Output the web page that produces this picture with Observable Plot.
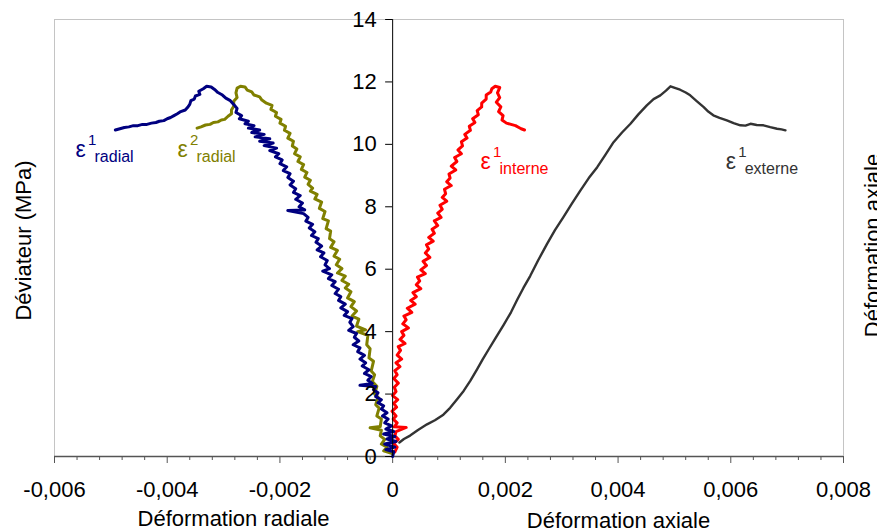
<!DOCTYPE html>
<html><head><meta charset="utf-8">
<script src="https://cdn.jsdelivr.net/npm/d3@7"></script>
<script src="https://cdn.jsdelivr.net/npm/@observablehq/plot@0.6"></script>
<style>body{margin:0;background:#fff} svg{display:block}</style>
</head><body><div id="chart"></div>
<script>
// ---- data (x = strain, y = deviator stress in MPa) ----
const radial1 = [
[0.00000,0.00],[0.00002,0.15],[-0.00012,0.22],[0.00004,0.30],[-0.00014,0.40],[0.00006,0.48],[-0.00010,0.56],[0.00004,0.64],
[-0.00016,0.72],[0.00002,0.80],[-0.00012,0.88],[-0.00002,0.98],[-0.00014,1.08],[-0.00008,1.20],[-0.00018,1.30],[-0.00010,1.40],
[-0.00020,1.52],[-0.00016,1.62],[-0.00026,1.72],[-0.00020,1.82],[-0.00030,1.92],[-0.00026,2.04],[-0.00034,2.14],[-0.00030,2.24],
[-0.00058,2.28],[-0.00036,2.34],[-0.00044,2.44],[-0.00038,2.56],[-0.00050,2.66],[-0.00042,2.78],[-0.00054,2.90],[-0.00048,3.00],
[-0.00058,3.12],[-0.00050,3.24],[-0.00062,3.36],[-0.00058,3.48],[-0.00070,3.58],[-0.00060,3.70],[-0.00068,3.82],[-0.00064,3.94],
[-0.00078,4.04],[-0.00070,4.16],[-0.00076,4.30],[-0.00072,4.42],[-0.00086,4.52],[-0.00080,4.64],[-0.00092,4.76],[-0.00084,4.88],
[-0.00096,5.00],[-0.00092,5.12],[-0.00102,5.22],[-0.00096,5.36],[-0.00108,5.48],[-0.00102,5.60],[-0.00114,5.70],[-0.00108,5.82],
[-0.00124,5.94],[-0.00112,6.02],[-0.00120,6.14],[-0.00116,6.28],[-0.00128,6.40],[-0.00122,6.52],[-0.00134,6.62],[-0.00126,6.74],
[-0.00136,6.86],[-0.00132,6.98],[-0.00144,7.08],[-0.00138,7.20],[-0.00148,7.32],[-0.00142,7.44],[-0.00154,7.54],[-0.00150,7.66],
[-0.00158,7.78],[-0.00186,7.88],[-0.00156,7.90],[-0.00166,8.00],[-0.00160,8.12],[-0.00172,8.24],[-0.00164,8.36],[-0.00176,8.46],
[-0.00172,8.58],[-0.00182,8.70],[-0.00176,8.82],[-0.00186,8.94],[-0.00182,9.06],[-0.00194,9.16],[-0.00188,9.28],[-0.00200,9.38],
[-0.00196,9.50],[-0.00208,9.60],[-0.00202,9.70],[-0.00218,9.80],[-0.00206,9.88],[-0.00228,9.96],[-0.00212,10.04],[-0.00236,10.10],
[-0.00218,10.18],[-0.00244,10.24],[-0.00228,10.32],[-0.00250,10.38],[-0.00236,10.46],[-0.00256,10.52],[-0.00246,10.60],
[-0.00262,10.66],[-0.00256,10.74],[-0.00272,10.82],[-0.00268,10.92],[-0.00278,11.02],[-0.00276,11.15],[-0.00282,11.28],
[-0.00288,11.40],[-0.00296,11.48],[-0.00302,11.58],[-0.00310,11.66],[-0.00316,11.76],[-0.00322,11.84],[-0.00330,11.86],
[-0.00336,11.78],[-0.00344,11.70],[-0.00342,11.60],[-0.00350,11.55],[-0.00352,11.45],[-0.00358,11.40],[-0.00360,11.28],
[-0.00364,11.18],[-0.00368,11.10],[-0.00376,11.05],[-0.00382,10.98],[-0.00388,10.92],[-0.00394,10.86],[-0.00400,10.82],
[-0.00406,10.76],[-0.00414,10.74],[-0.00420,10.70],[-0.00428,10.68],[-0.00436,10.64],[-0.00444,10.64],[-0.00452,10.60],
[-0.00460,10.60],[-0.00468,10.56],[-0.00476,10.54],[-0.00484,10.50],[-0.00492,10.46]
];
const radial2 = [
[-0.00002,0.10],[-0.00016,0.18],[-0.00010,0.30],[-0.00020,0.40],[-0.00014,0.55],[-0.00022,0.66],[-0.00020,0.84],[-0.00040,0.92],
[-0.00022,0.96],[-0.00020,1.20],[-0.00028,1.30],[-0.00024,1.55],[-0.00030,1.66],[-0.00026,1.90],[-0.00032,2.00],[-0.00028,2.25],
[-0.00036,2.40],[-0.00032,2.62],[-0.00038,2.74],[-0.00034,3.05],[-0.00042,3.16],[-0.00040,3.45],[-0.00046,3.58],[-0.00044,3.88],
[-0.00062,4.00],[-0.00048,4.06],[-0.00064,4.18],[-0.00060,4.40],[-0.00072,4.50],[-0.00064,4.66],[-0.00074,4.80],[-0.00068,4.96],
[-0.00080,5.08],[-0.00074,5.28],[-0.00084,5.40],[-0.00078,5.52],[-0.00090,5.64],[-0.00084,5.78],[-0.00098,5.88],[-0.00090,6.02],
[-0.00100,6.14],[-0.00094,6.32],[-0.00104,6.42],[-0.00098,6.60],[-0.00110,6.70],[-0.00104,6.88],[-0.00112,6.98],[-0.00110,7.22],
[-0.00118,7.30],[-0.00114,7.55],[-0.00124,7.62],[-0.00120,7.85],[-0.00130,7.95],[-0.00126,8.15],[-0.00138,8.25],[-0.00134,8.40],
[-0.00146,8.50],[-0.00142,8.60],[-0.00150,8.72],[-0.00146,8.85],[-0.00156,8.95],[-0.00152,9.10],[-0.00162,9.20],[-0.00158,9.35],
[-0.00168,9.45],[-0.00164,9.60],[-0.00174,9.70],[-0.00170,9.85],[-0.00178,9.95],[-0.00176,10.10],[-0.00186,10.20],[-0.00182,10.35],
[-0.00192,10.45],[-0.00190,10.58],[-0.00200,10.68],[-0.00198,10.80],[-0.00208,10.90],[-0.00206,11.02],[-0.00216,11.12],
[-0.00214,11.25],[-0.00224,11.32],[-0.00232,11.42],[-0.00236,11.52],[-0.00246,11.58],[-0.00250,11.68],[-0.00258,11.74],
[-0.00262,11.84],[-0.00270,11.86],[-0.00276,11.80],[-0.00278,11.65],[-0.00276,11.50],[-0.00282,11.38],[-0.00282,11.22],
[-0.00286,11.10],[-0.00286,10.98],[-0.00292,10.90],[-0.00298,10.80],[-0.00304,10.78],[-0.00310,10.72],[-0.00318,10.70],
[-0.00324,10.64],[-0.00332,10.62],[-0.00340,10.56],[-0.00347,10.52]
];
const interne1 = [
[0.00004,0.15],[0.00008,0.30],[0.00002,0.42],[0.00010,0.55],[0.00004,0.66],[0.00006,0.80],[0.00024,0.93],[0.00003,0.95],
[0.00008,1.08],[0.00001,1.20],[0.00006,1.30],[-0.00001,1.45],[0.00007,1.58],[0.00002,1.70],[0.00009,1.82],[0.00000,1.95],
[0.00006,2.08],[0.00003,2.22],[0.00010,2.35],[0.00002,2.50],[0.00008,2.62],[0.00004,2.75],[0.00013,2.88],[0.00006,3.00],
[0.00016,3.12],[0.00008,3.25],[0.00014,3.40],[0.00010,3.52],[0.00022,3.62],[0.00013,3.75],[0.00020,3.88],[0.00016,4.00],
[0.00028,4.12],[0.00018,4.25],[0.00024,4.38],[0.00020,4.50],[0.00034,4.62],[0.00026,4.75],[0.00040,4.88],[0.00032,5.00],
[0.00042,5.12],[0.00036,5.25],[0.00050,5.38],[0.00042,5.50],[0.00048,5.62],[0.00044,5.75],[0.00058,5.86],[0.00050,5.98],
[0.00060,6.12],[0.00054,6.25],[0.00066,6.38],[0.00058,6.52],[0.00064,6.65],[0.00060,6.78],[0.00072,6.90],[0.00064,7.02],
[0.00074,7.15],[0.00070,7.28],[0.00080,7.40],[0.00074,7.55],[0.00086,7.66],[0.00080,7.80],[0.00088,7.92],[0.00084,8.05],
[0.00096,8.18],[0.00088,8.30],[0.00094,8.42],[0.00092,8.56],[0.00104,8.68],[0.00096,8.80],[0.00102,8.92],[0.00100,9.05],
[0.00112,9.18],[0.00104,9.30],[0.00114,9.45],[0.00110,9.58],[0.00122,9.70],[0.00116,9.82],[0.00124,9.95],[0.00122,10.08],
[0.00132,10.20],[0.00128,10.32],[0.00138,10.45],[0.00136,10.58],[0.00146,10.70],[0.00142,10.82],[0.00152,10.95],[0.00150,11.08],
[0.00158,11.20],[0.00158,11.32],[0.00166,11.45],[0.00166,11.58],[0.00174,11.68],[0.00176,11.78],[0.00182,11.86],[0.00190,11.82],
[0.00186,11.65],[0.00190,11.50],[0.00184,11.35],[0.00192,11.20],[0.00188,11.05],[0.00196,10.92],[0.00194,10.78],[0.00202,10.68],
[0.00210,10.64],[0.00218,10.60],[0.00224,10.54],[0.00228,10.50],[0.00234,10.46]
];
const externe1 = [
[0.00012,0.45],[0.00020,0.56],[0.00031,0.67],[0.00045,0.85],[0.00061,1.03],[0.00075,1.16],[0.00090,1.34],
[0.00102,1.56],[0.00114,1.83],[0.00126,2.10],[0.00138,2.43],[0.00150,2.80],[0.00160,3.12],[0.00170,3.42],
[0.00182,3.78],[0.00197,4.22],[0.00210,4.62],[0.00221,5.02],[0.00232,5.40],[0.00244,5.78],[0.00258,6.28],
[0.00274,6.81],[0.00288,7.25],[0.00303,7.67],[0.00318,8.10],[0.00333,8.52],[0.00348,8.92],[0.00363,9.27],
[0.00378,9.68],[0.00392,10.07],[0.00407,10.38],[0.00422,10.66],[0.00436,10.96],[0.00451,11.25],[0.00463,11.45],
[0.00475,11.57],[0.00485,11.72],[0.00493,11.86],[0.00502,11.80],[0.00510,11.75],[0.00520,11.66],[0.00528,11.57],
[0.00540,11.38],[0.00552,11.19],[0.00560,11.05],[0.00569,10.93],[0.00580,10.85],[0.00593,10.77],[0.00605,10.68],
[0.00617,10.61],[0.00626,10.60],[0.00635,10.66],[0.00646,10.62],[0.00658,10.61],[0.00670,10.55],[0.00682,10.50],
[0.00690,10.48],[0.00697,10.45]
];
const seriesNames = ["radial1", "radial2", "interne1", "externe1"];
const seriesColors = ["#000080", "#808000", "#ff0000", "#333333"];
const labelSup = ["1", "2", "1", "1"];
const labelSub = ["radial", "radial", "interne", "externe"];
const labelX = [-0.005627, -0.003817, 0.001559, 0.005910];
const labelY = [9.58, 9.58, 9.195, 9.195];
const xMajorTicks = [-0.006, -0.004, -0.002, 0, 0.002, 0.004, 0.006, 0.008];
const xMinorTicks = [-0.0056,-0.0052,-0.0048,-0.0044,-0.0036,-0.0032,-0.0028,-0.0024,-0.0016,-0.0012,-0.0008,-0.0004,
  0.0004,0.0008,0.0012,0.0016,0.0024,0.0028,0.0032,0.0036,0.0044,0.0048,0.0052,0.0056,0.0064,0.0068,0.0072,0.0076];
const yTicks = [0, 2, 4, 6, 8, 10, 12, 14];

// ---- build ----
const seriesData = {radial1, radial2, interne1, externe1};
const labels = seriesNames.map((s, i) => ({s, sup: labelSup[i], sub: labelSub[i], x: labelX[i], y: labelY[i], c: seriesColors[i]}));
const fmt = d => d === 0 ? "0" : d.toFixed(3).replace(".", ",");
const drawOrder = [3, 2, 1, 0];

const chart = Plot.plot({
  width: 877, height: 531,
  marginLeft: 54, marginRight: 34, marginTop: 19, marginBottom: 75,
  style: {fontFamily: "'Liberation Sans', Arial, sans-serif", background: "#fff", color: "#000"},
  x: {domain: [-0.006, 0.008]},
  y: {domain: [0, 14]},
  marks: [
    Plot.frame({stroke: "#c4c4c4"}),
    Plot.axisX({ticks: xMinorTicks, tickSize: 4, fill: "none", stroke: "#555", label: null}),
    Plot.axisX({ticks: xMajorTicks, tickSize: 7, tickPadding: 18, fontSize: 22, tickFormat: fmt,
      stroke: "#555", fill: "#000", label: null}),
    Plot.ruleY([0], {stroke: "#555", strokeWidth: 1.6}),
    ...drawOrder.map(i => Plot.line(seriesData[seriesNames[i]], {
      x: d => d[0], y: d => d[1], stroke: seriesColors[i],
      strokeWidth: i === 3 ? 2.4 : 3, strokeLinejoin: "round"
    })),
    Plot.ruleX([0], {stroke: "#000", strokeWidth: 1}),
    Plot.axisY({ticks: yTicks, tickSize: 7, tickPadding: 9, fontSize: 22, dx: 338.14,
      stroke: "#000", fill: "#000", label: null}),
    Plot.text(labels, {x: "x", y: "y", text: () => "\u03b5", fill: "c", fontSize: 23, textAnchor: "start", lineAnchor: "bottom"}),
    Plot.text(labels, {x: "x", y: "y", text: "sup", fill: "c", fontSize: 15, textAnchor: "start", lineAnchor: "bottom", dx: 12.5, dy: -12.5}),
    Plot.text(labels, {x: "x", y: "y", text: "sub", fill: "c", fontSize: 16, textAnchor: "start", lineAnchor: "bottom", dx: 19, dy: 5}),
    Plot.text(["Déviateur (MPa)"], {text: d => d, frameAnchor: "left", textAnchor: "middle", dx: -31, dy: 2.5, rotate: -90, fontSize: 22, fill: "#000"}),
    Plot.text(["Déformation axiale"], {text: d => d, frameAnchor: "right", textAnchor: "middle", dx: 29, dy: 7.5, rotate: -90, fontSize: 22, fill: "#000"}),
    Plot.text(["Déformation radiale"], {text: d => d, frameAnchor: "bottom-left", dx: 179, dy: 69, fontSize: 22, lineAnchor: "bottom", textAnchor: "middle", fill: "#000"}),
    Plot.text(["Déformation axiale"], {text: d => d, frameAnchor: "bottom-left", dx: 564, dy: 71, fontSize: 22, lineAnchor: "bottom", textAnchor: "middle", fill: "#000"})
  ]
});
document.getElementById("chart").appendChild(chart);
</script>
</body></html>
